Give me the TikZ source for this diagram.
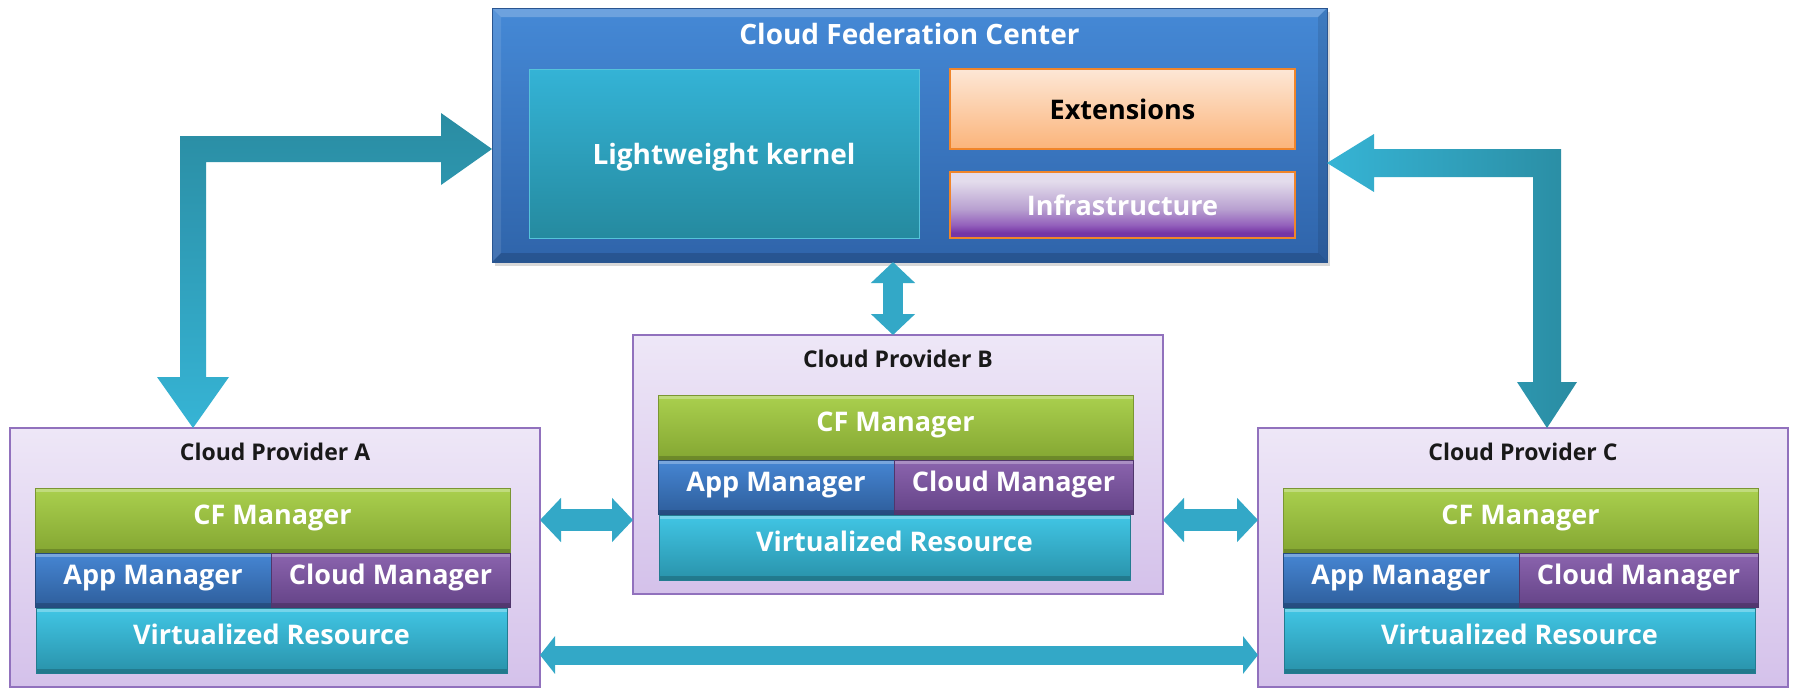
\documentclass[tikz,border=0pt]{standalone}
\usepackage{fontspec}
\setmainfont{Open Sans}
\usetikzlibrary{arrows.meta,calc,shadows}

% palette
\definecolor{cfctop}{HTML}{4589D6}
\definecolor{cfcbot}{HTML}{2F64AA}
\definecolor{cfcline}{HTML}{2A5590}
\definecolor{kertop}{HTML}{34B3D6}
\definecolor{kerbot}{HTML}{258A9F}
\definecolor{kerline}{HTML}{55C3DA}
\definecolor{exttop}{HTML}{FDE7D6}
\definecolor{extbot}{HTML}{FBB47A}
\definecolor{orline}{HTML}{F0852A}
\definecolor{inftop}{HTML}{E3DCEC}
\definecolor{infmid}{HTML}{B8A0D0}
\definecolor{inflow}{HTML}{9461BC}
\definecolor{infbot}{HTML}{7535A6}
\definecolor{provtop}{HTML}{EEE7F7}
\definecolor{provbot}{HTML}{D4C1EA}
\definecolor{provline}{HTML}{9171BD}
\definecolor{cftop}{HTML}{AAD04E}
\definecolor{cfbot}{HTML}{84A632}
\definecolor{cfline}{HTML}{7A9632}
\definecolor{apptop}{HTML}{4686D3}
\definecolor{appbot}{HTML}{2E5E9C}
\definecolor{cldtop}{HTML}{8B64AE}
\definecolor{cldbot}{HTML}{644387}
\definecolor{vrtop}{HTML}{41C6E5}
\definecolor{vrbot}{HTML}{2992AA}
\definecolor{arrdark}{HTML}{2A8CA2}
\definecolor{arrlight}{HTML}{36B4D5}
\definecolor{arrmid}{HTML}{33A8C7}

% stops placed in the 25bp..75bp band that covers the filled path
\pgfdeclareverticalshading{infrashade}{100bp}{%
  color(0bp)=(infbot); color(29bp)=(infbot); color(35bp)=(inflow);
  color(47bp)=(infmid); color(68bp)=(inftop); color(100bp)=(inftop)}

\tikzset{
  x=1pt, y=-1pt,
  blk/.style={rectangle, inner sep=0pt, outer sep=0pt, anchor=north west},
  bevel/.style={path picture={
      \fill[white, opacity=0.28] (path picture bounding box.north west)
        rectangle ([yshift=-4pt]path picture bounding box.north east);
      \fill[black, opacity=0.18] (path picture bounding box.south west)
        rectangle ([yshift=4pt]path picture bounding box.south east);}},
  lbl/.style={font=\fontsize{27}{32}\selectfont\bfseries, text=white},
  upper/.style={text height=20pt, text depth=12pt},
  ptitle/.style={font=\fontsize{23}{27}\selectfont\bfseries, text=black!90},
  center box/.style={blk, top color=cfctop, bottom color=cfcbot, draw=cfcline,
      line width=1pt,
      drop shadow={shadow xshift=3pt, shadow yshift=-4pt, opacity=0.3},
      path picture={
      \fill[white, opacity=0.22] (path picture bounding box.north west)
        -- (path picture bounding box.north east)
        -- ([shift={(-9pt,-9pt)}]path picture bounding box.north east)
        -- ([shift={(9pt,-9pt)}]path picture bounding box.north west) -- cycle;
      \fill[white, opacity=0.10] (path picture bounding box.north west)
        -- (path picture bounding box.south west)
        -- ([shift={(9pt,9pt)}]path picture bounding box.south west)
        -- ([shift={(9pt,-9pt)}]path picture bounding box.north west) -- cycle;
      \fill[black, opacity=0.15] (path picture bounding box.south west)
        -- (path picture bounding box.south east)
        -- ([shift={(-9pt,9pt)}]path picture bounding box.south east)
        -- ([shift={(9pt,9pt)}]path picture bounding box.south west) -- cycle;
      \fill[black, opacity=0.10] (path picture bounding box.north east)
        -- (path picture bounding box.south east)
        -- ([shift={(-9pt,9pt)}]path picture bounding box.south east)
        -- ([shift={(-9pt,-9pt)}]path picture bounding box.north east) -- cycle;}},
  kernel/.style={blk, top color=kertop, bottom color=kerbot, draw=kerline,
      line width=1pt, lbl, font=\fontsize{28}{32}\selectfont\bfseries,
      text height=22pt, text depth=0pt},
  extbox/.style={blk, top color=exttop, bottom color=extbot, draw=orline,
      line width=1.2pt, font=\fontsize{27}{32}\selectfont\bfseries, text=black},
  infbox/.style={blk, shading=infrashade, draw=orline, line width=1.2pt, lbl},
  provider/.style={blk, top color=provtop, bottom color=provbot,
      draw=provline, line width=1.2pt},
  cfmgr/.style={blk, top color=cftop, bottom color=cfbot, draw=cfline,
      line width=0.8pt, bevel, lbl, upper},
  appmgr/.style={blk, top color=apptop, bottom color=appbot, draw=appbot!80!black,
      line width=0.8pt, bevel, lbl, upper},
  cldmgr/.style={blk, top color=cldtop, bottom color=cldbot, draw=cldbot!80!black,
      line width=0.8pt, bevel, lbl, upper},
  vres/.style={blk, top color=vrtop, bottom color=vrbot, draw=vrbot!85!black,
      line width=0.8pt, bevel, lbl, upper},
  dblarrow/.style={draw=arrmid, line width=#1,
      {Triangle[width=43pt,length=21pt]}-{Triangle[width=43pt,length=21pt]}},
  dblarrow/.default=22pt,
}

% one provider site: #1 name, #2 x, #3 y, #4 letter
\newcommand{\cloudprovider}[4]{%
  \node[provider, minimum width=530pt, minimum height=259pt] (#1) at (#2,#3) {};
  \node[ptitle] (#1-title) at ($(#1.north)+(0,24)$) {Cloud Provider #4};
  \node[cfmgr, minimum width=475pt, minimum height=65pt] (#1-cf)
    at ($(#1.north west)+(25,60)$) {CF Manager};
  \node[appmgr, minimum width=236pt, minimum height=54pt] (#1-app)
    at ($(#1.north west)+(25,125)$) {App Manager};
  \node[cldmgr, minimum width=239pt, minimum height=54pt] (#1-cloud)
    at ($(#1.north west)+(261,125)$) {Cloud Manager};
  \node[vres, minimum width=471pt, minimum height=65pt] (#1-vr)
    at ($(#1.north west)+(26,180)$) {Virtualized Resource};
}

\begin{document}
\begin{tikzpicture}
\useasboundingbox (0,0) rectangle (1795,689);
\fill[white] (0,0) rectangle (1795,689);

% federation center
\node[center box, minimum width=835pt, minimum height=254pt] (cfc) at (492,8) {};
\node[lbl, font=\fontsize{28}{32}\selectfont\bfseries] (cfc-title)
  at ($(cfc.north)+(0,26)$) {Cloud Federation Center};
\node[kernel, minimum width=390pt, minimum height=169pt] (kernel) at (529,69)
  {Lightweight kernel};
\node[extbox, minimum width=345pt, minimum height=80pt] (ext) at (950,69)
  {Extensions};
\node[infbox, minimum width=345pt, minimum height=66pt] (infra) at (950,172)
  {Infrastructure};

% provider sites
\cloudprovider{cpA}{10}{428}{A}
\cloudprovider{cpB}{633}{335}{B}
\cloudprovider{cpC}{1258}{428}{C}

% elbow arrow: center <-> provider A
\coordinate (lj) at (193,149);
\coordinate (ls) at (cfc.west |- lj);
\coordinate (le) at (lj |- cpA.north);
\path[top color=arrdark, bottom color=arrlight]
  (ls) -- ($(ls)+(-51,-36)$) -- ($(ls)+(-51,-13)$) -- ($(lj)+(-13,-13)$)
  -- ($(le)+(-13,-51)$) -- ($(le)+(-36,-51)$) -- (le) -- ($(le)+(36,-51)$)
  -- ($(le)+(13,-51)$) -- ($(lj)+(13,13)$) -- ($(ls)+(-51,13)$)
  -- ($(ls)+(-51,36)$) -- cycle;

% elbow arrow: center <-> provider C
\coordinate (rj) at (1547,163);
\coordinate (rs) at (cfc.east |- rj);
\coordinate (re) at (rj |- cpC.north);
\path[left color=arrlight, right color=arrdark]
  (rs) -- ($(rs)+(47,-29)$) -- ($(rs)+(47,-14)$) -- ($(rj)+(14,-14)$)
  -- ($(re)+(14,-46)$) -- ($(re)+(30,-46)$) -- (re) -- ($(re)+(-30,-46)$)
  -- ($(re)+(-14,-46)$) -- ($(rj)+(-14,14)$) -- ($(rs)+(47,14)$)
  -- ($(rs)+(47,29)$) -- cycle;

% straight double arrows
\coordinate (cx) at (893,0);
\draw[dblarrow=20pt] (cfc.south -| cx) -- (cpB.north -| cx);
\coordinate (my) at (0,520);
\draw[dblarrow] (cpA.east |- my) -- (cpB.west |- my);
\draw[dblarrow] (cpB.east |- my) -- (cpC.west |- my);
\coordinate (by) at (0,655);
\draw[draw=arrmid, line width=19pt,
  {Triangle[width=37pt,length=15pt]}-{Triangle[width=37pt,length=15pt]}]
  (cpA.east |- by) -- (cpC.west |- by);
\end{tikzpicture}
\end{document}
